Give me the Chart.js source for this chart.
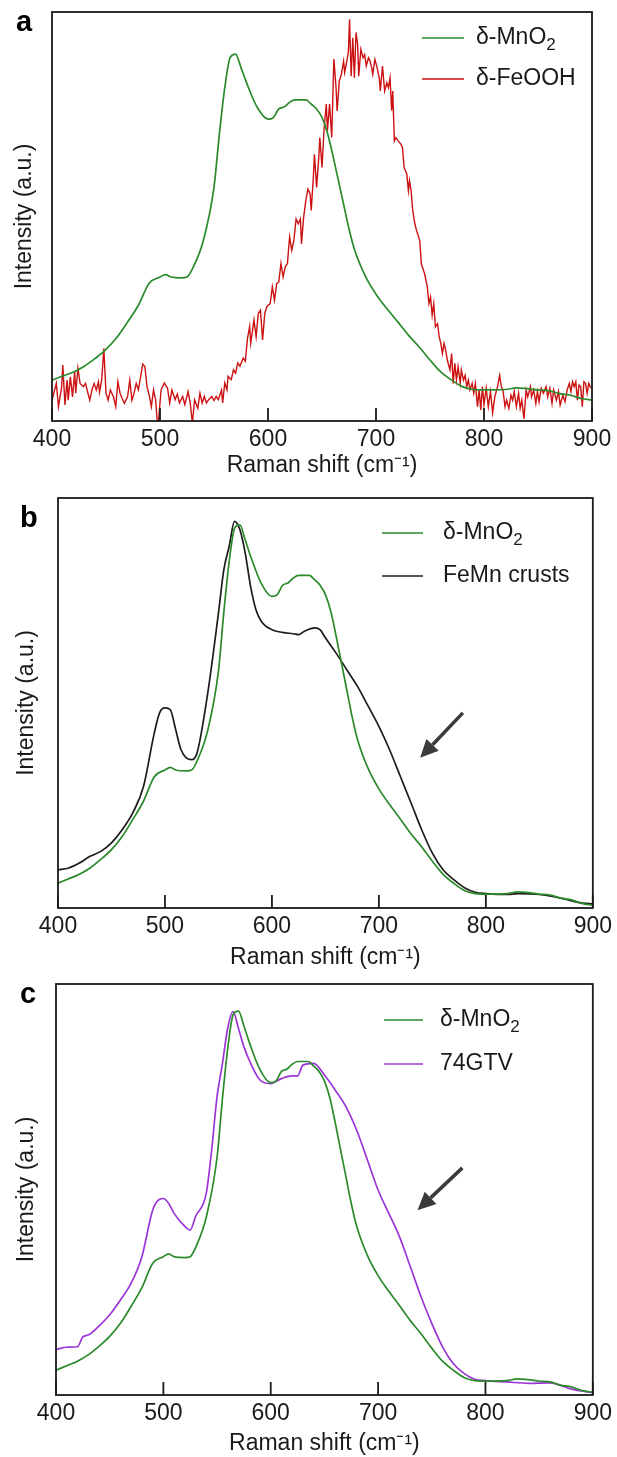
<!DOCTYPE html>
<html>
<head>
<meta charset="utf-8">
<title>Raman spectra</title>
<script src="https://cdn.jsdelivr.net/npm/chart.js@4.4.1/dist/chart.umd.min.js"></script>
<style>
  html, body { margin: 0; padding: 0; background: #fff; }
  #page { position: relative; width: 617px; height: 1457px; }
  #page canvas { position: absolute; left: 0; }
</style>
</head>
<body>
<div id="page">
  <canvas id="panelA" width="617" height="480" style="top:0"></canvas>
  <canvas id="panelB" width="617" height="495" style="top:480px"></canvas>
  <canvas id="panelC" width="617" height="482" style="top:975px"></canvas>
</div>
<script>
// ── Data: Raman shift (cm-1) and intensity (a.u., scaled to panel a frame) ──
const xTicks = [400, 500, 600, 700, 800, 900];

const mno2Shift = [400,410,420,430,440,450,460,470,480,490,500,505,510,520,525,530,540,550,555,560,565,570,575,580,
  590,600,605,610,615,620,625,630,635,640,645,650,655,660,665,670,675,680,
  690,700,710,720,730,740,750,760,770,780,790,800,810,820,830,840,850,860,870,880,890,900];
const mno2Int = [0.100,0.110,0.120,0.134,0.153,0.175,0.204,0.242,0.283,0.337,0.352,0.358,0.352,0.350,0.352,0.372,0.440,0.572,0.702,0.815,0.889,0.897,0.864,0.828,
  0.767,0.738,0.742,0.763,0.768,0.779,0.785,0.785,0.785,0.775,0.763,0.742,0.705,0.650,0.590,0.530,0.470,0.420,
  0.355,0.310,0.275,0.243,0.210,0.181,0.149,0.120,0.100,0.084,0.077,0.076,0.076,0.077,0.081,0.079,0.076,0.074,0.067,0.063,0.055,0.051];

const feoohShift = [
  400,404,406,409,410,412,414,415,417,419,
  421,422,424,426,429,431,433,435,437,439,
  441,443,444,446,448,450,452,454,457,459,
  461,463,465,467,470,472,474,476,478,480,
  482,484,486,488,490,492,494,496,498,501,
  504,507,509,511,514,516,518,521,523,526,
  528,530,532,535,537,539,541,543,545,548,
  550,552,554,557,558,560,562,563,566,568,
  570,572,574,577,579,581,583,584,587,589,
  591,593,595,597,599,602,604,606,608,610,
  612,614,616,618,620,622,624,626,628,630,
  631,633,635,637,639,640,642,643,645,647,
  648,650,652,654,655,657,659,661,663,664,
  666,668,670,671,673,674.5,675.5,677,678.5,680,
  681.5,683,684,686,688,689.5,691,693,694.5,696,
  697,699,701,703,704,706,708,710,711.5,713,
  714.5,715.5,717,718.5,720.5,723,724.5,726,728.5,730,
  731,732.5,734,736,737.5,740.5,742,744,745,747.5,
  749,750.5,752,753.5,755,757,758.5,760,761.5,763,
  764.5,766,768.5,770,771.5,773,774.5,776,778,779,
  781,782.5,784,785.5,787,789,790.5,792,794,795.5,
  797,798.5,800,802,804,806,808,810,812.5,814.5,
  816,817.5,819.5,821,823,825,826.5,828,830,832,
  833.5,835,837,839,840.5,843,844,846,848,849.5,
  851,853,855,857.5,859,861,863,864.5,867,869,
  870.5,873,875,877,879,880.5,882,883.5,885,886.5,
  888,889.5,891,892.5,894,895.5,897,899];
const feoohInt = [
  0.051,0.092,0.035,0.084,0.137,0.039,0.100,0.051,0.108,0.059,
  0.120,0.068,0.129,0.092,0.084,0.092,0.071,0.051,0.076,0.092,
  0.076,0.096,0.071,0.100,0.177,0.068,0.051,0.076,0.059,0.035,
  0.096,0.068,0.055,0.043,0.059,0.100,0.051,0.068,0.092,0.076,
  0.108,0.139,0.133,0.084,0.063,0.035,0.076,0.051,-0.020,0.076,
  0.093,0.080,0.044,0.076,0.052,0.066,0.044,0.060,0.040,0.072,
  0.044,-0.005,0.052,0.031,0.068,0.044,0.060,0.044,0.052,0.060,
  0.050,0.060,0.052,0.076,0.044,0.093,0.076,0.109,0.101,0.125,
  0.117,0.142,0.134,0.154,0.146,0.202,0.231,0.190,0.247,0.206,
  0.263,0.271,0.198,0.263,0.280,0.287,0.328,0.295,0.336,0.340,
  0.385,0.352,0.377,0.385,0.450,0.417,0.442,0.494,0.482,0.494,
  0.433,0.498,0.539,0.567,0.555,0.515,0.596,0.652,0.571,0.644,
  0.693,0.620,0.717,0.775,0.709,0.775,0.693,0.885,0.815,0.758,
  0.831,0.848,0.880,0.852,0.880,0.905,0.982,0.843,0.937,0.839,
  0.950,0.921,0.843,0.909,0.888,0.896,0.868,0.888,0.880,0.864,
  0.848,0.884,0.864,0.839,0.807,0.868,0.807,0.827,0.815,0.839,
  0.759,0.807,0.685,0.693,0.685,0.677,0.669,0.620,0.604,0.563,
  0.588,0.563,0.515,0.482,0.466,0.441,0.384,0.368,0.360,0.328,
  0.287,0.303,0.259,0.287,0.230,0.238,0.206,0.190,0.165,0.190,
  0.174,0.149,0.125,0.165,0.092,0.141,0.100,0.133,0.092,0.125,
  0.100,0.112,0.084,0.100,0.076,0.092,0.068,0.092,0.035,0.076,
  0.027,0.084,0.040,0.080,0.035,0.072,0.020,0.059,0.084,0.112,
  0.084,0.076,0.035,0.051,0.031,0.063,0.051,0.072,0.035,0.068,
  0.031,0.051,0.005,0.076,0.059,0.084,0.059,0.076,0.043,0.072,
  0.047,0.080,0.068,0.084,0.059,0.080,0.043,0.076,0.051,0.072,
  0.039,0.063,0.047,0.076,0.092,0.072,0.096,0.084,0.096,0.051,
  0.088,0.084,0.035,0.096,0.092,0.068,0.092,0.080];

const femnShift = [400,410,420,430,440,450,460,470,480,490,495,500,505,510,515,520,525,530,
  540,550,555,560,565,570,575,580,585,590,600,610,620,625,630,640,645,650,
  660,670,680,690,700,710,720,730,740,750,760,770,780,790,800,820,830,850,870,890,900];
const femnInt = [0.130,0.134,0.145,0.160,0.171,0.190,0.219,0.257,0.316,0.434,0.479,0.490,0.486,0.442,0.397,0.379,0.375,0.390,
  0.523,0.701,0.797,0.849,0.905,0.887,0.835,0.761,0.709,0.683,0.664,0.658,0.655,0.653,0.660,0.668,0.664,0.646,
  0.612,0.575,0.538,0.494,0.449,0.397,0.338,0.279,0.219,0.167,0.130,0.108,0.090,0.080,0.077,0.075,0.077,0.075,0.067,0.056,0.054];

const gtvShift = [400,410,420,425,430,440,450,460,470,480,490,495,500,505,510,520,525,530,
  540,545,550,555,560,565,570,575,580,590,600,610,620,625,630,640,650,660,670,680,
  690,700,710,720,730,740,750,760,770,780,790,800,820,840,860,880,900];
const gtvInt = [0.146,0.151,0.152,0.174,0.178,0.198,0.223,0.256,0.293,0.352,0.455,0.477,0.481,0.470,0.448,0.419,0.411,0.441,
  0.493,0.589,0.707,0.780,0.860,0.896,0.858,0.818,0.788,0.744,0.736,0.747,0.753,0.753,0.777,0.781,0.755,0.722,0.685,0.633,
  0.567,0.500,0.448,0.396,0.330,0.263,0.204,0.152,0.115,0.093,0.080,0.077,0.074,0.071,0.072,0.058,0.050];

const GREEN = '#2b8a2b', RED = '#cc1111', BLACK = '#1c1c1c', PURPLE = '#9c35d8';
const FONT = "'Liberation Sans', Arial, Helvetica, sans-serif";
const TEXT_SIZE = 23;

Chart.defaults.font.family = FONT;
Chart.defaults.color = '#1a1a1a';

function pts(xs, ys) { return xs.map((x, i) => ({ x, y: ys[i] })); }

function series(label, xs, ys, color, smooth) {
  return {
    label, data: pts(xs, ys),
    borderColor: color, backgroundColor: color,
    borderWidth: smooth ? 1.7 : 1.4, pointRadius: 0,
    cubicInterpolationMode: smooth ? 'monotone' : 'default', tension: 0, fill: false
  };
}

// digits right after a letter are set as subscripts (MnO2)
function drawRich(ctx, text, x, y, size) {
  let cx = x, sub = false;
  for (let i = 0; i < text.length; i++) {
    const ch = text[i];
    const isDigit = ch >= '0' && ch <= '9';
    sub = isDigit && (sub || /[A-Za-z]/.test(text[i - 1] || ''));
    ctx.font = `${sub ? Math.round(size * 0.72) : size}px ${FONT}`;
    ctx.fillText(ch, cx, sub ? y + size * 0.3 : y);
    cx += ctx.measureText(ch).width;
  }
}

const panelDecor = {
  id: 'panelDecor',
  afterDatasetsDraw(chart, args, o) {
    const { ctx, chartArea: area, scales: { x, y } } = chart;
    ctx.save();

    // inward tick marks + frame
    ctx.strokeStyle = '#1a1a1a';
    ctx.lineWidth = 1.8;
    x.ticks.forEach(t => {
      const px = x.getPixelForValue(t.value);
      ctx.beginPath(); ctx.moveTo(px, area.bottom); ctx.lineTo(px, area.bottom - 13); ctx.stroke();
    });
    ctx.strokeRect(area.left, area.top, area.width, area.height);

    // legend inside the frame
    ctx.textBaseline = 'middle';
    chart.data.datasets.forEach((ds, i) => {
      const ly = area.top + o.legend.top + i * o.legend.gap;
      ctx.strokeStyle = ds.borderColor; ctx.lineWidth = 1.6;
      ctx.beginPath(); ctx.moveTo(area.left + o.legend.lineFrom, ly); ctx.lineTo(area.left + o.legend.lineTo, ly); ctx.stroke();
      ctx.fillStyle = '#1a1a1a';
      drawRich(ctx, ds.label, area.left + o.legend.text, ly, TEXT_SIZE);
    });

    // arrow, given in data units
    if (o.arrow) {
      const x0 = x.getPixelForValue(o.arrow.from[0]), y0 = y.getPixelForValue(o.arrow.from[1]);
      const x1 = x.getPixelForValue(o.arrow.to[0]), y1 = y.getPixelForValue(o.arrow.to[1]);
      const ang = Math.atan2(y1 - y0, x1 - x0);
      const head = 18, half = 8.5;
      const bx = x1 - head * Math.cos(ang), by = y1 - head * Math.sin(ang);
      ctx.strokeStyle = '#3b3b3b'; ctx.fillStyle = '#3b3b3b'; ctx.lineWidth = 3.5;
      ctx.beginPath(); ctx.moveTo(x0, y0); ctx.lineTo(bx, by); ctx.stroke();
      ctx.beginPath(); ctx.moveTo(x1, y1);
      ctx.lineTo(bx + half * Math.sin(ang), by - half * Math.cos(ang));
      ctx.lineTo(bx - half * Math.sin(ang), by + half * Math.cos(ang));
      ctx.closePath(); ctx.fill();
    }

    // panel letter
    ctx.font = `bold 29px ${FONT}`;
    ctx.fillStyle = '#000';
    ctx.textBaseline = 'alphabetic';
    ctx.fillText(o.letter, o.letterPos[0], o.letterPos[1]);
    ctx.restore();
  }
};

function makePanel(id, cfg) {
  const canvas = document.getElementById(id);
  const H = canvas.height;
  return new Chart(canvas, {
    type: 'line',
    data: { datasets: cfg.datasets },
    options: {
      responsive: false,
      animation: false,
      events: [],
      layout: { padding: { top: cfg.area.top, right: 617 - cfg.area.right, left: 0, bottom: 0 } },
      plugins: { legend: { display: false }, tooltip: { enabled: false }, panelDecor: cfg.decor },
      scales: {
        x: {
          type: 'linear', min: xTicks[0], max: xTicks[xTicks.length - 1],
          afterFit: s => { s.height = H - cfg.area.bottom; },
          afterBuildTicks: s => { s.ticks = xTicks.map(v => ({ value: v })); },
          grid: { display: false, drawTicks: false },
          border: { display: false },
          ticks: { font: { size: TEXT_SIZE }, padding: 5, maxRotation: 0 },
          title: { display: true, text: 'Raman shift (cm\u207B\u00B9)', font: { size: TEXT_SIZE }, padding: cfg.xTitlePad }
        },
        y: {
          min: cfg.yRange[0], max: cfg.yRange[1],
          afterFit: s => { s.width = cfg.area.left; },
          grid: { display: false, drawTicks: false },
          border: { display: false },
          ticks: { display: false },
          title: { display: true, text: 'Intensity (a.u.)', font: { size: TEXT_SIZE }, padding: cfg.yTitlePad }
        }
      }
    },
    plugins: [panelDecor]
  });
}

makePanel('panelA', {
  area: { left: 52, right: 592, top: 12, bottom: 421 },
  yRange: [0, 1], xTitlePad: 1, yTitlePad: 11,
  datasets: [
    series('δ-MnO2', mno2Shift, mno2Int, GREEN, true),
    series('δ-FeOOH', feoohShift, feoohInt, RED, false)
  ],
  decor: { letter: 'a', letterPos: [16, 31], legend: { top: 26, gap: 41, lineFrom: 370, lineTo: 412, text: 424 } }
});

makePanel('panelB', {
  area: { left: 58, right: 597, top: 18, bottom: 428 },
  yRange: [0.045, 0.957], xTitlePad: 4, yTitlePad: 13,
  datasets: [
    series('δ-MnO2', mno2Shift, mno2Int, GREEN, true),
    series('FeMn crusts', femnShift, femnInt, BLACK, true)
  ],
  decor: { letter: 'b', letterPos: [20, 47], legend: { top: 35, gap: 43, lineFrom: 324, lineTo: 365, text: 385 },
           arrow: { from: [778.5, 0.479], to: [738.6, 0.379] } }
});

makePanel('panelC', {
  area: { left: 56, right: 595, top: 9, bottom: 420 },
  yRange: [0.045, 0.957], xTitlePad: 0, yTitlePad: 13,
  datasets: [
    series('δ-MnO2', mno2Shift, mno2Int, GREEN, true),
    series('74GTV', gtvShift, gtvInt, PURPLE, true)
  ],
  decor: { letter: 'c', letterPos: [20, 28], legend: { top: 36, gap: 44, lineFrom: 328, lineTo: 367, text: 384 },
           arrow: { from: [778.5, 0.549], to: [736.7, 0.455] } }
});
</script>
</body>
</html>
